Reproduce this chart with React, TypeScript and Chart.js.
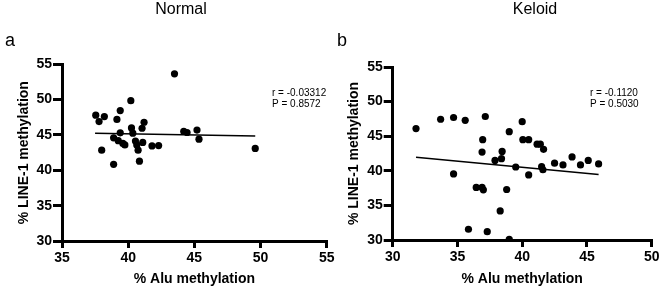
import React, { useEffect, useRef } from "react";
import { Chart, registerables } from "chart.js";

Chart.register(...registerables);

const FONT = "'Liberation Sans', Arial, Helvetica, sans-serif";

// Panel a: Normal
const normalAlu = [43.5, 40.2, 39.4, 37.55, 38.2, 37.8, 39.15, 41.2, 41.05, 40.25, 39.4, 40.35, 44.2, 44.45, 45.2, 45.35, 38.9, 39.25, 39.6, 39.75, 40.55, 40.65, 41.1, 40.75, 41.8, 42.3, 38.0, 38.9, 40.85, 49.6];
const normalLine1 = [53.65, 49.85, 48.45, 47.8, 47.6, 46.9, 47.2, 46.8, 45.95, 46.0, 45.3, 45.25, 45.5, 45.35, 45.7, 44.4, 44.6, 44.2, 43.8, 43.6, 44.15, 43.6, 43.95, 42.85, 43.45, 43.5, 42.85, 40.85, 41.3, 43.1];
const normalFitX = [37.5, 49.6];
const normalFitY = [45.25, 44.85];

// Panel b: Keloid
const keloidAlu = [31.8, 33.7, 34.7, 35.6, 37.15, 34.7, 36.45, 36.9, 37.0, 35.85, 37.3, 36.95, 36.9, 37.9, 38.45, 38.4, 38.3, 38.8, 39.0, 39.0, 39.5, 40.0, 40.05, 40.5, 40.5, 41.15, 41.4, 41.65, 41.5, 41.6, 42.5, 43.15, 43.85, 44.5, 45.1, 45.9];
const keloidLine1 = [46.1, 47.45, 47.7, 47.3, 47.85, 39.55, 37.6, 37.6, 37.25, 31.55, 31.2, 44.5, 42.7, 41.5, 42.8, 41.75, 34.2, 37.3, 45.65, 30.1, 40.55, 47.1, 44.5, 44.5, 39.4, 43.85, 43.85, 43.1, 40.6, 40.15, 41.1, 40.85, 42.0, 40.85, 41.5, 41.0];
const keloidFitX = [31.8, 45.9];
const keloidFitY = [41.95, 39.45];

const xTitle = "% Alu methylation";
const yTitle = "% LINE-1 methylation";
const normalTexts = ["Normal", "a", "r = -0.03312", "P = 0.8572"];
const keloidTexts = ["Keloid", "b", "r = -0.1120", "P = 0.5030"];

type PanelSpec = {
  xs: number[];
  ys: number[];
  fitX: number[];
  fitY: number[];
  xMin: number;
  xMax: number;
  texts: string[];
  width: number;
  yAxisWidth: number;
  padRight: number;
  padTop: number;
  xAxisHeight: number;
  titleX: number;
  letterX: number;
  statX: number;
};

function textPlugin(spec: PanelSpec) {
  return {
    id: "panelTexts",
    afterDraw(chart: any) {
      const ctx = chart.ctx as CanvasRenderingContext2D;
      ctx.save();
      ctx.fillStyle = "#000";
      ctx.textAlign = "center";
      ctx.textBaseline = "middle";
      ctx.font = `16px ${FONT}`;
      ctx.fillText(spec.texts[0], spec.titleX, 10);
      ctx.textAlign = "left";
      ctx.textBaseline = "alphabetic";
      ctx.font = `18px ${FONT}`;
      ctx.fillText(spec.texts[1], spec.letterX, 45.5);
      ctx.textBaseline = "middle";
      ctx.font = `10px ${FONT}`;
      ctx.fillText(spec.texts[2], spec.statX, 93);
      ctx.fillText(spec.texts[3], spec.statX, 104.5);
      ctx.restore();
    },
  };
}

function makeChart(canvas: HTMLCanvasElement, spec: PanelSpec) {
  const points = spec.xs.map((x, i) => ({ x, y: spec.ys[i] }));
  const fit = spec.fitX.map((x, i) => ({ x, y: spec.fitY[i] }));
  const gridCommon = {
    display: true,
    drawOnChartArea: false,
    drawTicks: true,
    color: "#000",
    lineWidth: 3,
  };
  const borderCommon = { display: true, color: "#000", width: 3 };
  return new Chart(canvas, {
    type: "scatter",
    data: {
      datasets: [
        {
          data: points,
          backgroundColor: "#000",
          borderColor: "#000",
          pointRadius: 3.6,
          pointBorderWidth: 0,
        },
        {
          data: fit,
          showLine: true,
          borderColor: "#000",
          borderWidth: 1.5,
          pointRadius: 0,
          fill: false,
        } as any,
      ],
    },
    options: {
      animation: false,
      responsive: false,
      devicePixelRatio: 1,
      layout: {
        padding: { left: 0, right: spec.padRight, top: spec.padTop, bottom: 0 },
      },
      plugins: {
        legend: { display: false },
        tooltip: { enabled: false },
        title: { display: false },
      },
      scales: {
        x: {
          type: "linear",
          min: spec.xMin,
          max: spec.xMax,
          grid: { ...gridCommon, tickLength: 7 },
          border: borderCommon,
          ticks: {
            stepSize: 5,
            color: "#000",
            padding: 2,
            font: { family: FONT, size: 14, weight: "bold" },
          },
          title: {
            display: true,
            text: xTitle,
            color: "#000",
            font: { family: FONT, size: 14, weight: "bold" },
            padding: { top: 0, bottom: 3 },
          },
          afterFit: (s: any) => {
            s.height = spec.xAxisHeight;
            s.paddingLeft = 0;
            s.paddingRight = 0;
          },
        },
        y: {
          type: "linear",
          min: 30,
          max: 55,
          grid: { ...gridCommon, tickLength: 9 },
          border: borderCommon,
          ticks: {
            stepSize: 5,
            color: "#000",
            padding: 1,
            font: { family: FONT, size: 14, weight: "bold" },
          },
          title: {
            display: true,
            text: yTitle,
            color: "#000",
            font: { family: FONT, size: 14, weight: "bold" },
            padding: { top: 16, bottom: 0 },
          },
          afterFit: (s: any) => {
            s.width = spec.yAxisWidth;
            s.paddingTop = 0;
            s.paddingBottom = 0;
          },
        },
      },
    } as any,
    plugins: [textPlugin(spec)],
  });
}

const leftSpec: PanelSpec = {
  xs: normalAlu,
  ys: normalLine1,
  fitX: normalFitX,
  fitY: normalFitY,
  xMin: 35,
  xMax: 55,
  texts: normalTexts,
  width: 345,
  yAxisWidth: 62,
  padRight: 345 - 326.7,
  padTop: 64.3,
  xAxisHeight: 50,
  titleX: 181,
  letterX: 5,
  statX: 272,
};

const rightSpec: PanelSpec = {
  xs: keloidAlu,
  ys: keloidLine1,
  fitX: keloidFitX,
  fitY: keloidFitY,
  xMin: 30,
  xMax: 50,
  texts: keloidTexts,
  width: 331,
  yAxisWidth: 62.7,
  padRight: 331 - 321.7,
  padTop: 67,
  xAxisHeight: 51,
  titleX: 205,
  letterX: 7,
  statX: 260,
};

function Panel({ spec, left }: { spec: PanelSpec; left: number }) {
  const ref = useRef<HTMLCanvasElement | null>(null);
  useEffect(() => {
    if (!ref.current) return;
    const chart = makeChart(ref.current, spec);
    return () => chart.destroy();
  }, [spec]);
  return (
    <canvas
      ref={ref}
      width={spec.width}
      height={291}
      style={{ position: "absolute", left, top: 0, width: spec.width, height: 291, display: "block" }}
    />
  );
}

export default function App() {
  return (
    <div
      style={{
        position: "fixed",
        left: 0,
        top: 0,
        width: 661,
        height: 291,
        background: "#fff",
        overflow: "hidden",
      }}
    >
      <Panel spec={leftSpec} left={0} />
      <Panel spec={rightSpec} left={330} />
    </div>
  );
}
